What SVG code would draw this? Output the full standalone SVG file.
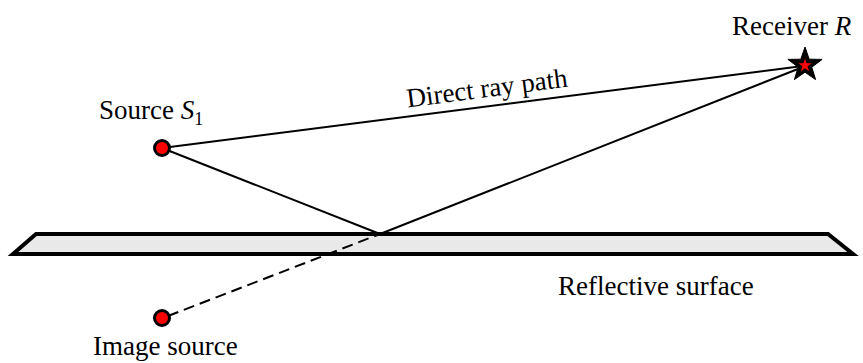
<svg xmlns="http://www.w3.org/2000/svg" width="863" height="363" viewBox="0 0 863 363">
<rect width="863" height="363" fill="#fff"/>
<g id="surface">
<polygon points="36,234 828,234 853,254 13,254" fill="#e9e9e9" stroke="#000" stroke-width="4" stroke-linejoin="miter"/>
<text x="558" y="295" style="font-family:'Liberation Serif',serif;font-size:27px;fill:#000">Reflective surface</text>
</g>
<g id="connectors" stroke="#000" stroke-width="2" fill="none">
<line x1="162" y1="148" x2="803" y2="66"/>
<line x1="162" y1="148" x2="380" y2="234"/>
<line x1="380" y1="234" x2="803" y2="67"/>
<line x1="168" y1="316" x2="380" y2="234" stroke-dasharray="11,6"/>
</g>
<g id="ray-label">
<text transform="translate(488,97) rotate(-7.4)" text-anchor="middle" style="font-family:'Liberation Serif',serif;font-size:27px;fill:#000">Direct ray path</text>
</g>
<g id="source">
<circle cx="162" cy="148" r="7.5" fill="#ff0000" stroke="#000" stroke-width="3"/>
<text x="99" y="119" style="font-family:'Liberation Serif',serif;font-size:27px;fill:#000">Source <tspan style="font-style:italic">S</tspan><tspan dy="6" style="font-size:18px">1</tspan></text>
</g>
<g id="image-source">
<circle cx="162" cy="318" r="7.5" fill="#ff0000" stroke="#000" stroke-width="3"/>
<text x="93" y="355" style="font-family:'Liberation Serif',serif;font-size:27px;fill:#000">Image source</text>
</g>
<g id="receiver">
<polygon points="805,47 809.2,59.2 822.1,59.4 811.8,67.2 815.6,79.6 805,72.2 794.4,79.6 798.2,67.2 787.9,59.4 800.8,59.2" fill="#000" stroke="#000" stroke-width="1"/>
<polygon points="805,58.5 806.6,63.3 811.7,63.3 807.6,66.3 809.1,71.2 805,68.2 800.9,71.2 802.4,66.3 798.3,63.3 803.4,63.3" fill="#ff0000"/>
<text x="732" y="35" style="font-family:'Liberation Serif',serif;font-size:27px;fill:#000">Receiver <tspan style="font-style:italic">R</tspan></text>
</g>
</svg>
